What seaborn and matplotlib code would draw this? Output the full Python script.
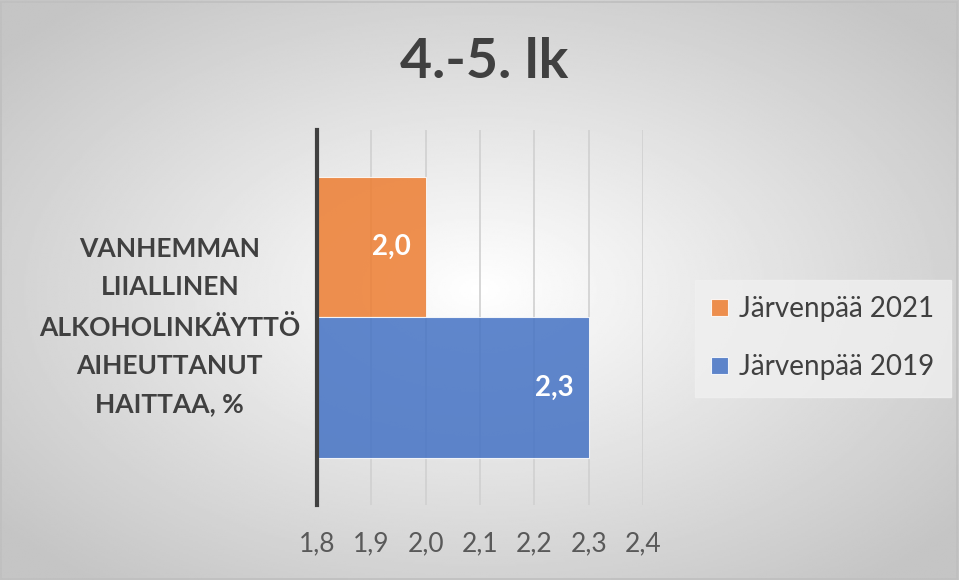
import numpy as np
import pandas as pd
import matplotlib
matplotlib.use("Agg")
import matplotlib.pyplot as plt
from matplotlib.ticker import FuncFormatter
import seaborn as sns

# Data
categories = ["VANHEMMAN\nLIIALLINEN\nALKOHOLINKÄYTTÖ\nAIHEUTTANUT\nHAITTAA, %"]
series = ["Järvenpää 2021", "Järvenpää 2019"]
values_2021 = [2.0]
values_2019 = [2.3]
x_ticks = [1.8, 1.9, 2.0, 2.1, 2.2, 2.3, 2.4]
colors = ["#ED7D31", "#4472C4"]

df = pd.DataFrame({
    "kategoria": categories * 2,
    "sarja": [series[0]] * len(values_2021) + [series[1]] * len(values_2019),
    "arvo": values_2021 + values_2019,
})

sns.set_theme(style="white")
plt.rcParams["font.family"] = ["Lato", "DejaVu Sans"]

fig = plt.figure(figsize=(9.59, 5.8), dpi=100)

# radial gradient background
bg = fig.add_axes([0, 0, 1, 1], zorder=-10)
yy, xx = np.mgrid[-1:1:300j, -1:1:500j]
r = np.sqrt(xx ** 2 + yy ** 2)
bg.imshow(1 - np.clip(r / 1.3, 0, 1) * 0.23, cmap="gray", vmin=0, vmax=1,
          extent=[0, 1, 0, 1], aspect="auto", origin="lower")
bg.set_xlim(0, 1)
bg.set_ylim(0, 1)
bg.axis("off")
fig.patches.append(plt.Rectangle((0.001, 0.001), 0.997, 0.995, transform=fig.transFigure,
                                 fill=False, edgecolor="#bfbfbf", linewidth=1.2))

ax = fig.add_axes([0.3306, 0.1293, 0.3400, 0.6466])
ax.patch.set_alpha(0)

sns.barplot(data=df, y="kategoria", x="arvo", hue="sarja", hue_order=series,
            palette=colors, saturation=1, orient="h", width=0.75, alpha=0.85,
            edgecolor="white", linewidth=0.8, ax=ax, zorder=3)

ax.set_xlim(1.8, 2.4)
ax.set_xticks(x_ticks)
ax.xaxis.set_major_formatter(FuncFormatter(lambda v, p: f"{v:.1f}".replace(".", ",")))
ax.grid(axis="x", color="#d0d0d0", linewidth=1.2, zorder=1)
ax.set_axisbelow(True)
ax.tick_params(axis="x", length=0, pad=19, labelsize=19, labelcolor="#595959")
ax.tick_params(axis="y", length=0, pad=12, labelsize=19, labelcolor="#404040")
for lab in ax.get_yticklabels():
    lab.set_fontweight("bold")
    lab.set_multialignment("center")
    lab.set_linespacing(1.72)
ax.set_xlabel("")
ax.set_ylabel("")
for s in ["top", "right", "bottom"]:
    ax.spines[s].set_visible(False)
ax.spines["left"].set_color("#404040")
ax.spines["left"].set_linewidth(3)
ax.spines["left"].set_zorder(5)

# data labels inside the end of each bar
for cont in ax.containers:
    for patch in cont:
        w = patch.get_x() + patch.get_width()
        yc = patch.get_y() + patch.get_height() / 2
        ax.annotate(f"{w:.1f}".replace(".", ","), (w, yc), xytext=(-11, 0),
                    textcoords="offset points", ha="right", va="center",
                    color="white", fontweight="bold", fontsize=20, zorder=6)

leg = ax.legend(loc="center", bbox_to_anchor=(0.858, 0.417), bbox_transform=fig.transFigure,
                frameon=True, fontsize=20, handlelength=0.6, handleheight=0.6,
                handletextpad=0.4, labelspacing=1.15, borderpad=0.6, fancybox=False)
leg.get_frame().set_facecolor("#f0f0f0")
leg.get_frame().set_edgecolor("#f0f0f0")
for t in leg.get_texts():
    t.set_color("#404040")

fig.text(0.505, 0.893, "4.-5. lk", ha="center", va="center", fontsize=40,
         fontweight="bold", color="#404040")

fig.savefig("out.png", dpi=100)
